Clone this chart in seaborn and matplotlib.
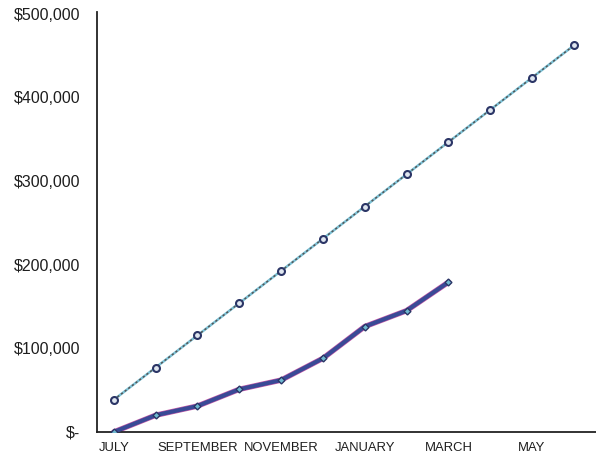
import matplotlib
matplotlib.use("Agg")
import matplotlib.pyplot as plt
import seaborn as sns
import pandas as pd

months = ["JULY", "AUGUST", "SEPTEMBER", "OCTOBER", "NOVEMBER", "DECEMBER",
          "JANUARY", "FEBRUARY", "MARCH", "APRIL", "MAY", "JUNE"]
budget = [38500, 77000, 115500, 154000, 192500, 231000,
          269500, 308000, 346500, 385000, 423500, 462000]
actual = [0, 20000, 31000, 51000, 62000, 88000, 126000, 145000, 179000]
yticks = [0, 100000, 200000, 300000, 400000, 500000]
ytick_labels = ["$-", "$100,000", "$200,000", "$300,000", "$400,000", "$500,000"]

sns.set_theme(style="white")
plt.rcParams['font.family'] = ['Liberation Sans', 'DejaVu Sans']

df_b = pd.DataFrame({"x": range(len(budget)), "v": budget})
df_a = pd.DataFrame({"x": range(len(actual)), "v": actual})

fig = plt.figure(figsize=(5.96, 4.58), dpi=100)
ax = fig.add_axes([0.1628, 0.0568, 0.8372, 0.917])

# Budget line: light blue with a dark dotted overlay and open circles
sns.lineplot(data=df_b, x="x", y="v", ax=ax, color="#7cc3d8", lw=1.8, zorder=2)
sns.lineplot(data=df_b, x="x", y="v", ax=ax, color="#555555", lw=1.1,
             linestyle=(0, (1.5, 1.5)), marker="o", markersize=5,
             markerfacecolor="#dfe6ef", markeredgecolor="#2b3566",
             markeredgewidth=1.5, zorder=3)

# Actual line: thick navy with magenta edge and small diamonds
sns.lineplot(data=df_a, x="x", y="v", ax=ax, color="#c45aa8", lw=3.9, zorder=2)
sns.lineplot(data=df_a, x="x", y="v", ax=ax, color="#3a4a96", lw=3.0,
             marker="D", markersize=3.5, markerfacecolor="#6fb8d0",
             markeredgecolor="#2b3566", markeredgewidth=1.0, zorder=3)

ax.set_xlim(-0.4, 11.53)
ax.set_ylim(0, 502000)
ax.set_xticks(range(len(months)))
ax.set_xticklabels([m if i % 2 == 0 else "" for i, m in enumerate(months)],
                   fontsize=9.4)
ax.set_yticks(yticks)
ax.set_yticklabels(ytick_labels, fontsize=11.5)
ax.set_xlabel("")
ax.set_ylabel("")
ax.tick_params(axis="x", direction="in", length=3, width=1, pad=7, colors="#222222")
ax.tick_params(axis="y", direction="in", length=3, width=1, pad=12, colors="#222222")
for lbl in ax.get_xticklabels() + ax.get_yticklabels():
    lbl.set_color("#1e1e1e")

for s in ["top", "right"]:
    ax.spines[s].set_visible(False)
for s in ["left", "bottom"]:
    ax.spines[s].set_color("#222222")
    ax.spines[s].set_linewidth(1.3)
ax.grid(False)

fig.savefig("out.png", dpi=100, facecolor="white")
